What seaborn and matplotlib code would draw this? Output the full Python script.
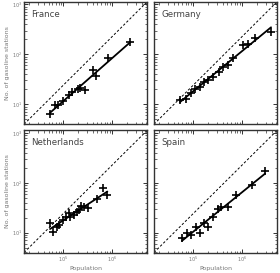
import numpy as np
import pandas as pd
import matplotlib
matplotlib.use("Agg")
import matplotlib.pyplot as plt
import seaborn as sns
from matplotlib.ticker import LogLocator, NullFormatter

# values, as log10(population) and log10(stations)
countries = ["France", "Germany", "Netherlands", "Spain"]

france_logpop = [4.73, 4.84, 4.90, 5.00, 5.11, 5.18, 5.31, 5.35, 5.45, 5.61, 5.67, 5.92, 6.37]
france_logst = [0.80, 0.99, 0.99, 1.07, 1.19, 1.24, 1.31, 1.32, 1.29, 1.69, 1.57, 1.93, 2.25]

germany_logpop = [4.73, 4.86, 4.95, 5.04, 5.13, 5.23, 5.31, 5.41, 5.52, 5.61, 5.72, 5.81,
                  6.01, 6.11, 6.27, 6.59]
germany_logst = [1.09, 1.11, 1.22, 1.31, 1.35, 1.45, 1.49, 1.55, 1.65, 1.75, 1.79, 1.92,
                 2.19, 2.21, 2.33, 2.44]

netherlands_logpop = [4.73, 4.80, 4.87, 4.92, 4.99, 5.06, 5.11, 5.14, 5.22, 5.28, 5.33, 5.36,
                      5.43, 5.50, 5.69, 5.81, 5.90]
netherlands_logst = [1.19, 1.02, 1.12, 1.15, 1.25, 1.32, 1.39, 1.32, 1.35, 1.42, 1.45, 1.53,
                     1.52, 1.49, 1.67, 1.90, 1.75]

spain_logpop = [4.77, 4.87, 4.95, 5.05, 5.13, 5.23, 5.30, 5.40, 5.50, 5.57, 5.72, 5.87, 6.20, 6.47]
spain_logst = [0.89, 1.00, 0.95, 1.12, 0.99, 1.20, 1.12, 1.32, 1.47, 1.52, 1.52, 1.75, 1.95, 2.23]

data = {
    "France": (france_logpop, france_logst),
    "Germany": (germany_logpop, germany_logst),
    "Netherlands": (netherlands_logpop, netherlands_logst),
    "Spain": (spain_logpop, spain_logst),
}

xlim = (10 ** 4.2, 10 ** 6.71)
ylim = (10 ** 0.6, 10 ** 3.05)

sns.set_style("ticks")
plt.rcParams["font.family"] = ["DejaVu Sans"]

fig = plt.figure(figsize=(2.8, 2.73), dpi=100)
positions = {
    "France": [0.086, 0.545, 0.439, 0.448],
    "Germany": [0.550, 0.545, 0.439, 0.448],
    "Netherlands": [0.086, 0.075, 0.439, 0.447],
    "Spain": [0.550, 0.075, 0.439, 0.447],
}
grey = "#777777"

for i, name in enumerate(countries):
    ax = fig.add_axes(positions[name])
    lx, ly = data[name]
    df = pd.DataFrame({"pop": 10 ** np.array(lx), "st": 10 ** np.array(ly)})

    # dashed diagonal across the panel
    ref = pd.DataFrame({"pop": list(xlim), "st": list(ylim)})
    sns.lineplot(data=ref, x="pop", y="st", ax=ax, color="black", linestyle=(0, (2.5, 2)),
                 linewidth=0.7)

    # power-law fit in log space
    k, b = np.polyfit(lx, ly, 1)
    fx = np.array([min(lx), max(lx)])
    fit = pd.DataFrame({"pop": 10 ** fx, "st": 10 ** (k * fx + b)})
    sns.lineplot(data=fit, x="pop", y="st", ax=ax, color="black", linewidth=1.3)

    sns.scatterplot(data=df, x="pop", y="st", ax=ax, marker="+", color="black",
                    s=32, linewidth=1.2, zorder=5)

    ax.set_xscale("log")
    ax.set_yscale("log")
    ax.set_xlim(xlim)
    ax.set_ylim(ylim)
    ax.xaxis.set_major_locator(LogLocator(base=10))
    ax.yaxis.set_major_locator(LogLocator(base=10))
    ax.xaxis.set_minor_locator(LogLocator(base=10, subs=np.arange(2, 10)))
    ax.yaxis.set_minor_locator(LogLocator(base=10, subs=np.arange(2, 10)))
    ax.xaxis.set_minor_formatter(NullFormatter())
    ax.yaxis.set_minor_formatter(NullFormatter())
    ax.tick_params(which="both", direction="in", top=True, right=True,
                   labelsize=3.5, labelcolor=grey, color="#333333", pad=1.5)
    ax.tick_params(which="major", length=3, width=0.7)
    ax.tick_params(which="minor", length=1.8, width=0.5)
    for sp in ax.spines.values():
        sp.set_linewidth(1.0)
        sp.set_color("#333333")

    ax.set_xlabel("")
    ax.set_ylabel("")
    if i % 2 == 0:
        ax.set_ylabel("No. of gasoline stations", fontsize=4.5, color=grey, labelpad=1.5)
    else:
        ax.set_yticklabels([])
    if i >= 2:
        ax.set_xlabel("Population", fontsize=4.5, color=grey, labelpad=1.5)
    else:
        ax.set_xticklabels([])

    ax.text(0.06, 0.9, name, transform=ax.transAxes, fontsize=6.2, color="#444444",
            ha="left", va="center")

fig.savefig("out.png", dpi=100)
